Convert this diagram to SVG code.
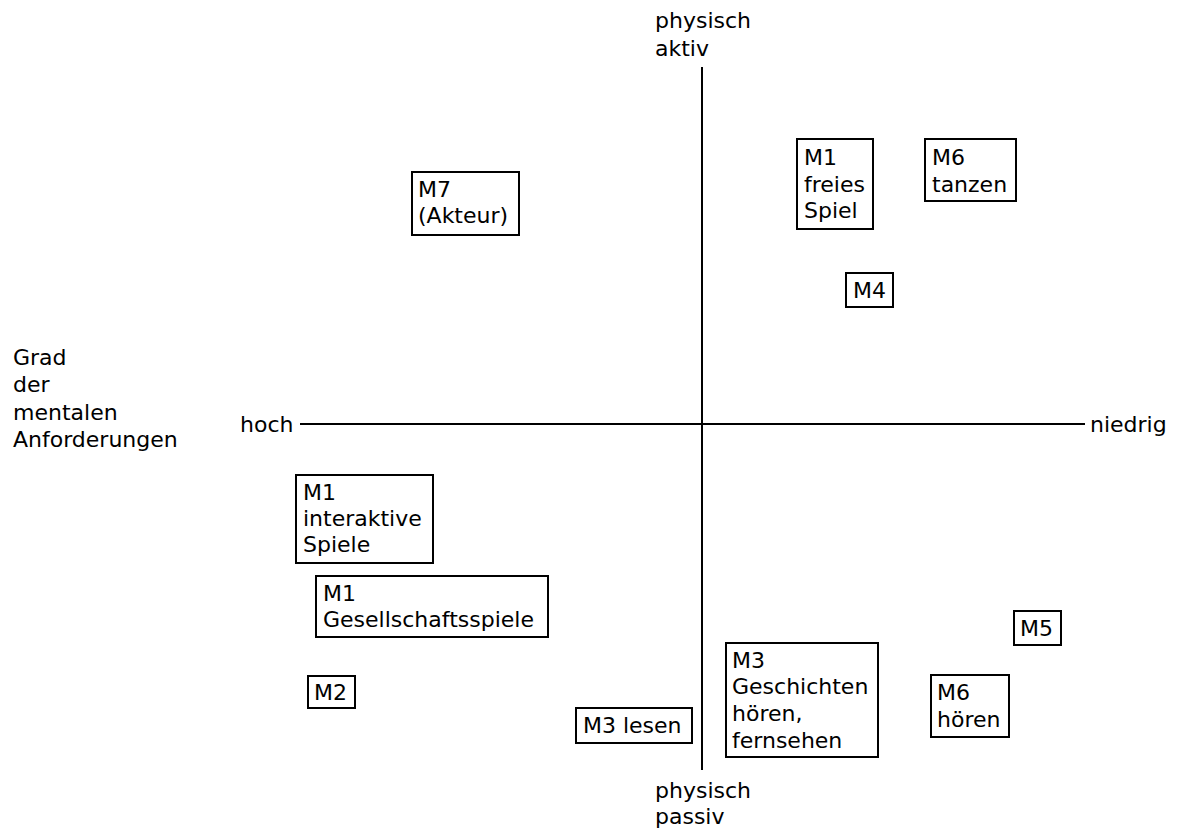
<svg xmlns="http://www.w3.org/2000/svg" width="1186" height="830" viewBox="0 0 1186 830">
<style>
text{font-family:"DejaVu Sans","Verdana",sans-serif;font-size:22px;fill:#000}
.box{fill:#fff;stroke:#000;stroke-width:2}
.axis{stroke:#000;stroke-width:2;fill:none}
</style>
<rect width="1186" height="830" fill="#fff"/>
<g id="connectors">
<line class="axis" x1="702" y1="67" x2="702" y2="770"/>
<line class="axis" x1="300" y1="424" x2="1085" y2="424"/>
</g>
<g id="labels">
<text x="655" y="28">physisch</text>
<text x="655" y="56">aktiv</text>
<text x="655" y="798">physisch</text>
<text x="655" y="824">passiv</text>
<text x="13" y="365">Grad</text>
<text x="13" y="392">der</text>
<text x="13" y="420">mentalen</text>
<text x="13" y="447">Anforderungen</text>
<text x="240" y="432">hoch</text>
<text x="1090" y="432">niedrig</text>
</g>
<g id="m7"><rect class="box" x="412" y="172" width="107" height="63"/><text x="418" y="197">M7</text><text x="418" y="223">(Akteur)</text></g>
<g id="m1-frei"><rect class="box" x="797" y="139" width="76" height="90"/><text x="804" y="165">M1</text><text x="804" y="192">freies</text><text x="804" y="218">Spiel</text></g>
<g id="m6-tanzen"><rect class="box" x="925" y="139" width="91" height="62"/><text x="932" y="165">M6</text><text x="932" y="192">tanzen</text></g>
<g id="m4"><rect class="box" x="846" y="273" width="47" height="34"/><text x="853" y="298">M4</text></g>
<g id="m1-interaktiv"><rect class="box" x="296" y="475" width="137" height="88"/><text x="303" y="500">M1</text><text x="303" y="526">interaktive</text><text x="303" y="552">Spiele</text></g>
<g id="m1-gesellschaft"><rect class="box" x="316" y="576" width="232" height="61"/><text x="323" y="601">M1</text><text x="323" y="627">Gesellschaftsspiele</text></g>
<g id="m2"><rect class="box" x="308" y="676" width="47" height="32"/><text x="314" y="700">M2</text></g>
<g id="m3-lesen"><rect class="box" x="576" y="708" width="116" height="35"/><text x="583" y="733">M3 lesen</text></g>
<g id="m3-geschichten"><rect class="box" x="726" y="643" width="152" height="114"/><text x="732" y="668">M3</text><text x="732" y="694">Geschichten</text><text x="732" y="721">hören,</text><text x="732" y="748">fernsehen</text></g>
<g id="m6-hoeren"><rect class="box" x="931" y="675" width="78" height="62"/><text x="937" y="700">M6</text><text x="937" y="727">hören</text></g>
<g id="m5"><rect class="box" x="1014" y="611" width="47" height="34"/><text x="1020" y="636">M5</text></g>
</svg>
